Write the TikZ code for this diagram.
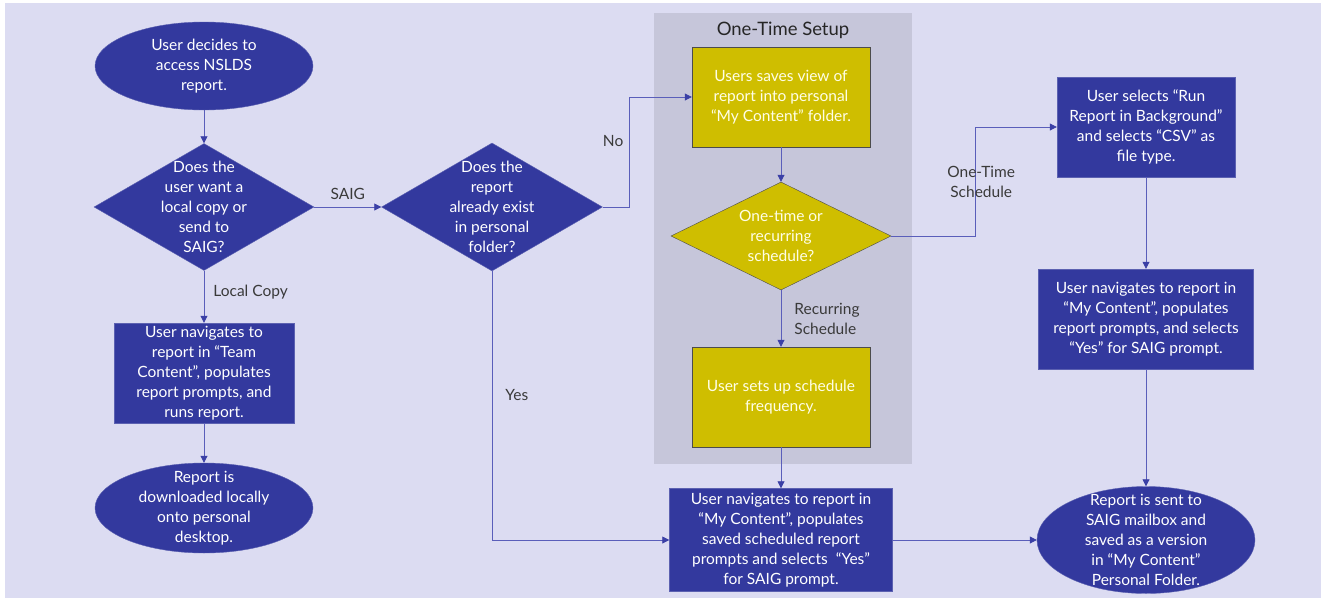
\documentclass[tikz,border=0pt]{standalone}
\usepackage{fontspec}
\setmainfont{Lato}
\usepackage{tikz}
\usetikzlibrary{positioning}
\usetikzlibrary{arrows.meta}
\usetikzlibrary{shapes.geometric}

\definecolor{pagebg}{HTML}{DCDCF2}
\definecolor{panelbg}{HTML}{C6C6DA}
\definecolor{nodeblue}{HTML}{33399E}
\definecolor{nodeyellow}{HTML}{CFBE00}
\definecolor{linkblue}{HTML}{5A5EBA}
\definecolor{arrowblue}{HTML}{3B40A6}
\definecolor{labelgray}{HTML}{3A3A3A}

\newcommand{\boxwidth}{178pt}
\newcommand{\boxheight}{100pt}
\newcommand{\flowfont}{\fontsize{15.5}{20}\selectfont}

\tikzset{
	nodetext/.style={text=white, font=\flowfont, align=center},
	process/.style={rectangle, fill=nodeblue, draw=nodeblue!80!white, minimum width=\boxwidth, minimum height=\boxheight, inner sep=0pt, nodetext},
	setup/.style={process, fill=nodeyellow, draw=black!70, text=white!90!yellow},
	terminal/.style={ellipse, fill=nodeblue, draw=nodeblue!80!white, minimum width=218pt, minimum height=90pt, inner sep=0pt},
	decision/.style={diamond, fill=nodeblue, draw=nodeblue!80!white, minimum width=220pt, minimum height=127pt, inner sep=0pt},
	inside/.style={nodetext, inner sep=0pt},
	insideyellow/.style={inside, text=white!90!yellow},
	flow/.style={draw=linkblue, line width=0.8pt, -{Triangle[length=7pt,width=7pt,color=arrowblue]}},
	flowlabel/.style={text=labelgray, font=\flowfont, align=left, inner sep=0pt}
}

\begin{document}
\begin{tikzpicture}[x=1pt, y=-1pt]
	\useasboundingbox (0,0) rectangle (1326,600);
	\fill[white] (0,0) rectangle (1326,600);
	\fill[pagebg] (5,3) rectangle (1321,598);

	% one-time setup panel
	\fill[panelbg] (654,13) rectangle (912,464);
	\node[text=black!85, font=\fontsize{18.5}{20}\selectfont] (setuptitle) at (783,30) {One-Time Setup};

	% left column
	\node[terminal, minimum height=88pt, label={[inside]center:{User decides to\\access NSLDS\\report.}}] (start) at (204,66) {};
	\node[decision, label={[inside]center:{Does the\\user want a\\local copy or\\send to\\SAIG?}}] (dcopy) at (204,207) {};
	\node[process, minimum width=180pt] (local) at (204,373) {User navigates to\\report in “Team\\Content”, populates\\report prompts, and\\runs report.};
	\node[terminal, label={[inside]center:{Report is\\downloaded locally\\onto personal\\desktop.}}] (lend) at (204,508) {};

	% second column
	\node[decision, minimum width=221pt, minimum height=128pt, label={[inside]center:{Does the\\report\\already exist\\in personal\\folder?}}] (dexist) at (492,207) {};

	% setup column
	\node[setup] (save) at (781,97) {Users saves view of\\report into personal\\“My Content” folder.};
	\node[decision, fill=nodeyellow, draw=black!70, minimum height=108pt, label={[insideyellow]center:{One-time or\\recurring\\schedule?}}] (dsched) at (781,236) {};
	\node[setup] (freq) at (781,397) {User sets up schedule\\frequency.};
	\node[process, minimum width=223pt, minimum height=103pt] (navsaved) at (781,540) {User navigates to report in\\“My Content”, populates\\saved scheduled report\\prompts and selects \ “Yes”\\for SAIG prompt.};

	% right column
	\node[process] (runbg) at (1146,127) {User selects “Run\\Report in Background”\\and selects “CSV” as\\file type.};
	\node[process, minimum width=215pt] (navmy) at (1146,319) {User navigates to report in\\“My Content”, populates\\report prompts, and selects\\“Yes” for SAIG prompt.};
	\node[terminal, minimum height=107pt, label={[inside]center:{Report is sent to\\SAIG mailbox and\\saved as a version\\in “My Content”\\Personal Folder.}}] (rend) at (1146,540) {};

	% connectors
	\draw[flow] (start) -- (dcopy);
	\draw[flow] (dcopy.east) -- node[midway, above=7pt, flowlabel] {SAIG} (dexist.west);
	\draw[flow] (dcopy.south) -- node[pos=0.42, right=9pt, flowlabel] {Local Copy} (local.north);
	\draw[flow] (local) -- (lend);
	\draw[flow] (dexist.east) -- ++(27,0) |- node[pos=0.3, left=6pt, flowlabel] {No} (save.west);
	\draw[flow] (dexist.south) |- node[pos=0.23, right=13pt, flowlabel] {Yes} (navsaved.west);
	\draw[flow] (save) -- (dsched);
	\draw[flow] (dsched.east) -- ++(84,0) |- node[pos=0.25, xshift=6pt, flowlabel, align=center] {One-Time\\Schedule} (runbg.west);
	\draw[flow] (dsched.south) -- node[midway, right=13pt, flowlabel] {Recurring\\Schedule} (freq.north);
	\draw[flow] (freq) -- (navsaved);
	\draw[flow] (navsaved) -- (rend);
	\draw[flow] (runbg) -- (navmy);
	\draw[flow] (navmy) -- (rend);
\end{tikzpicture}
\end{document}
